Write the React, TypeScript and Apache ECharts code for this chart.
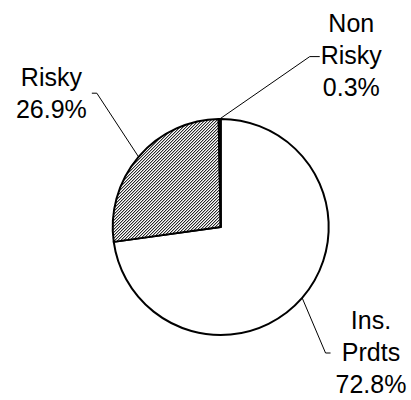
import React, { useEffect, useRef } from "react";
import * as echarts from "echarts";

// Portfolio split
const categories = ["Ins. Prdts", "Risky", "Non Risky"];
const shares = [72.8, 26.9, 0.3];

// Label placement (label block centre) and leader-line elbow per slice
const labelSpots = [
  { x: 371, y: 352, side: "left", gap: 5, elbow: 5, dy: 1 },
  { x: 51.4, y: 93.2, side: "right", gap: 5, elbow: 5, dy: 0 },
  { x: 351.3, y: 54.6, side: "left", gap: 1, elbow: 10, dy: 2 },
];

// Fine diagonal hatching tile
function makeHatch(): HTMLCanvasElement {
  const c = document.createElement("canvas");
  c.width = 3;
  c.height = 3;
  const ctx = c.getContext("2d")!;
  const shades = ["#2a2a2a", "#b4b4b4", "#ffffff"];
  for (let y = 0; y < 3; y++) {
    for (let x = 0; x < 3; x++) {
      ctx.fillStyle = shades[(x + y) % 3];
      ctx.fillRect(x, y, 1, 1);
    }
  }
  return c;
}

export default function App() {
  const ref = useRef<HTMLDivElement>(null);

  useEffect(() => {
    if (!ref.current) return;
    const chart = echarts.init(ref.current, undefined, { renderer: "svg" });
    const hatch = makeHatch();

    const fills: any[] = [
      "#ffffff",
      { image: hatch, repeat: "repeat" },
      "#000000",
    ];

    const data = categories.map((name, i) => ({
      name,
      value: shares[i],
      itemStyle: { color: fills[i] },
    }));

    chart.setOption({
      animation: false,
      backgroundColor: "#ffffff",
      series: [
        {
          type: "pie",
          center: [220.7, 227],
          radius: 108,
          startAngle: 90,
          clockwise: true,
          avoidLabelOverlap: false,
          silent: true,
          data,
          itemStyle: { borderColor: "#000000", borderWidth: 2 },
          label: {
            show: true,
            position: "outside",
            color: "#000000",
            fontFamily: '"Liberation Sans", Arial, sans-serif',
            fontSize: 25,
            lineHeight: 32,
            align: "center",
            formatter: (p: any) =>
              String(p.name).split(" ").join("\n") +
              "\n" +
              Number(p.value).toFixed(1) +
              "%",
          },
          labelLine: {
            show: true,
            length: 10,
            length2: 5,
            lineStyle: { color: "#000000", width: 1 },
          },
          labelLayout: (params: any) => {
            const spot = labelSpots[params.dataIndex];
            const w = params.labelRect.width;
            const pts = params.labelLinePoints;
            const start = pts ? pts[0] : [0, 0];
            const endX =
              spot.side === "left"
                ? spot.x - w / 2 - spot.gap
                : spot.x + w / 2 + spot.gap;
            const elbowX =
              spot.side === "left" ? endX - spot.elbow : endX + spot.elbow;
            const lineY = spot.y + spot.dy;
            return {
              x: spot.x,
              y: spot.y,
              align: "center",
              verticalAlign: "middle",
              labelLinePoints: [
                [start[0], start[1]],
                [elbowX, lineY],
                [endX, lineY],
              ],
            };
          },
          emphasis: { disabled: true },
        },
      ],
    });

    return () => chart.dispose();
  }, []);

  return (
    <div
      ref={ref}
      style={{ position: "absolute", left: 0, top: 0, width: 411, height: 400 }}
    />
  );
}
